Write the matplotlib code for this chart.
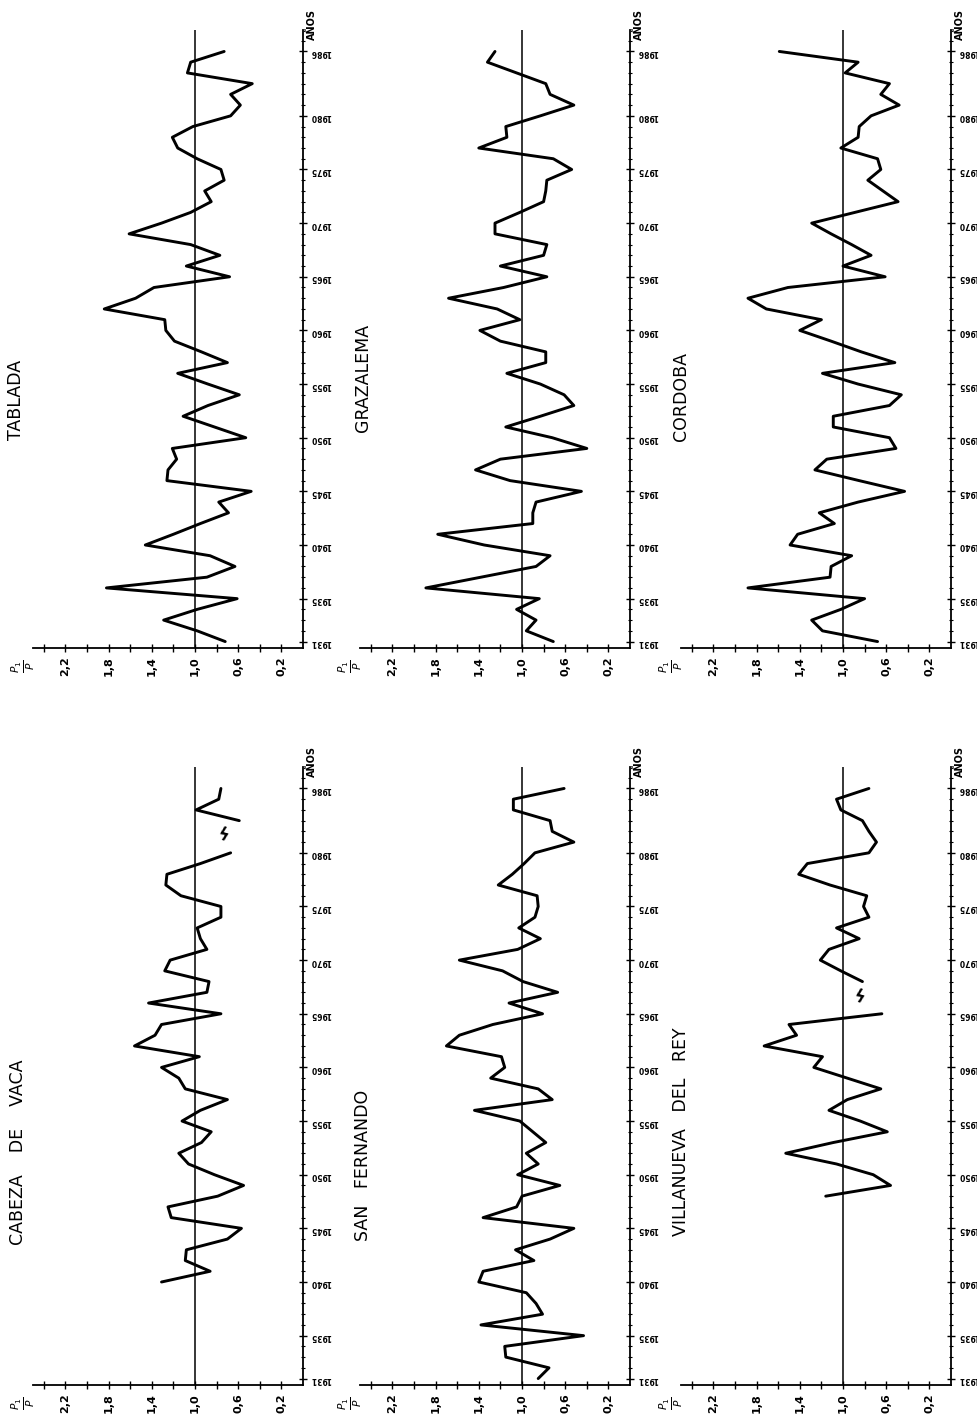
import numpy as np
import matplotlib
matplotlib.use('Agg')
import matplotlib.pyplot as plt
from matplotlib.ticker import FixedLocator

# ---------------- data (P1/P ratio per year) ----------------
years_full = list(range(1931, 1987))

tablada = [0.72, 0.98, 1.29, 0.98, 0.61, 1.82, 0.89, 0.63, 0.86, 1.46,
           1.20, 0.95, 0.69, 0.78, 0.48, 1.26, 1.25, 1.17, 1.21, 0.53,
           0.82, 1.11, 0.88, 0.59, 0.88, 1.16, 0.70, 0.94, 1.19, 1.27,
           1.28, 1.84, 1.55, 1.38, 0.68, 1.08, 0.77, 1.04, 1.61, 1.31,
           1.04, 0.85, 0.91, 0.73, 0.76, 0.98, 1.16, 1.21, 1.02, 0.67,
           0.58, 0.67, 0.47, 1.07, 1.04, 0.73]

grazalema = [0.71, 0.96, 0.87, 1.05, 0.84, 1.89, 1.38, 0.87, 0.74, 1.35,
             1.78, 0.90, 0.90, 0.87, 0.45, 1.11, 1.43, 1.20, 0.40, 0.72,
             1.15, 0.83, 0.52, 0.61, 0.83, 1.14, 0.78, 0.78, 1.20, 1.39,
             1.02, 1.23, 1.68, 1.17, 0.77, 1.20, 0.80, 0.77, 1.25, 1.25,
             1.02, 0.80, 0.78, 0.77, 0.54, 0.71, 1.40, 1.14, 1.15, 0.83,
             0.52, 0.74, 0.78, 1.05, 1.32, 1.25]

cordoba = [0.68, 1.19, 1.29, 1.02, 0.80, 1.88, 1.12, 1.11, 0.92, 1.49,
           1.42, 1.08, 1.22, 0.86, 0.43, 0.85, 1.26, 1.15, 0.51, 0.57,
           1.09, 1.09, 0.57, 0.46, 0.86, 1.19, 0.52, 0.83, 1.11, 1.40,
           1.20, 1.71, 1.88, 1.51, 0.61, 1.00, 0.74, 0.92, 1.11, 1.29,
           0.89, 0.49, 0.63, 0.77, 0.65, 0.68, 1.02, 0.86, 0.85, 0.74,
           0.48, 0.65, 0.57, 0.98, 0.86, 1.59]

san_fernando = [0.85, 0.75, 1.15, 1.16, 0.43, 1.38, 0.81, 0.87, 0.96, 1.40,
                1.36, 0.89, 1.06, 0.74, 0.52, 1.36, 1.05, 1.00, 0.65, 1.04,
                0.85, 0.96, 0.78, 0.90, 1.02, 1.44, 0.72, 0.85, 1.29, 1.16,
                1.19, 1.70, 1.58, 1.27, 0.81, 1.12, 0.67, 0.99, 1.18, 1.58,
                1.04, 0.83, 1.03, 0.88, 0.85, 0.86, 1.22, 1.09, 0.98, 0.88,
                0.52, 0.72, 0.74, 1.08, 1.08, 0.61]

years_cabeza = list(range(1940, 1987))
cabeza = [1.31, 0.86, 1.09, 1.08, 0.70, 0.57, 1.22, 1.25, 0.79, 0.55,
          0.82, 1.06, 1.15, 0.94, 0.85, 1.12, 0.95, 0.70, 1.09, 1.15,
          1.31, 0.96, 1.56, 1.37, 1.31, 0.76, 1.43, 0.89, 0.87, 1.28,
          1.23, 0.89, 0.95, 0.98, 0.76, 0.76, 1.13, 1.27, 1.26, 0.95,
          0.67, np.nan, np.nan, 0.59, 0.99, 0.78, 0.76]

years_villanueva = list(range(1948, 1987))
villanueva = [1.16, 0.56, 0.72, 1.06, 1.53, 1.09, 0.59, 0.84, 1.13, 0.96,
              0.65, 0.96, 1.27, 1.19, 1.73, 1.43, 1.50, 0.64, np.nan, np.nan,
              0.82, 1.02, 1.21, 1.13, 0.85, 1.06, 0.76, 0.81, 0.78, 1.12,
              1.41, 1.33, 0.76, 0.69, 0.76, 0.82, 1.02, 1.06, 0.76]

# break marks (year, value) where series is interrupted
cabeza_break = (1981.6, 0.74)
villanueva_break = (1966.5, 0.85)

value_ticks = [0.2, 0.6, 1.0, 1.4, 1.8, 2.2]
value_labels = ['0,2', '0,6', '1,0', '1,4', '1,8', '2,2']
value_minor = [0.4, 0.8, 1.2, 1.6, 2.0, 2.4]
year_ticks = [1931, 1935, 1940, 1945, 1950, 1955, 1960, 1965, 1970, 1975, 1980, 1986]
year_labels = [str(y) for y in year_ticks]

names = ['TABLADA', 'GRAZALEMA', 'CORDOBA',
         'CABEZA    DE    VACA', 'SAN   FERNANDO', 'VILLANUEVA   DEL   REY']

# ---------------- figure ----------------
W, H = 977, 1420
fig = plt.figure(figsize=(W / 100, H / 100), dpi=100)
fig.patch.set_facecolor('white')

col_px = [33, 360, 681]
row_bottom_px = [648, 1385]
ax_w_px, ax_h_px = 270, 618

name_pos = [(16, 400), (363, 378), (681, 396),
            (18, 1152), (363, 1165), (681, 1132)]

series = [(years_full, tablada, None),
          (years_full, grazalema, None),
          (years_full, cordoba, None),
          (years_cabeza, cabeza, cabeza_break),
          (years_full, san_fernando, None),
          (years_villanueva, villanueva, villanueva_break)]

for i, (yrs, vals, brk) in enumerate(series):
    r, c = divmod(i, 3)
    left = col_px[c] / W
    bottom = 1 - row_bottom_px[r] / H
    ax = fig.add_axes([left, bottom, ax_w_px / W, ax_h_px / H])
    ax.set_xlim(2.5, 0.0)
    ax.set_ylim(1930.4, 1988)
    for s in ['top', 'left']:
        ax.spines[s].set_visible(False)
    for s in ['bottom', 'right']:
        ax.spines[s].set_linewidth(1.3)
    ax.axvline(1.0, color='black', lw=1.1)
    ax.plot(np.array(vals, dtype=float), yrs, color='black', lw=2.1,
            solid_joinstyle='round', solid_capstyle='round')
    if brk is not None:
        ax.text(brk[1], brk[0], 'ϟ', fontsize=12, ha='center', va='center',
                rotation=-15, fontweight='bold')

    ax.xaxis.set_major_locator(FixedLocator(value_ticks))
    ax.xaxis.set_minor_locator(FixedLocator(value_minor))
    ax.set_xticklabels(value_labels)
    ax.tick_params(axis='x', which='both', direction='inout', length=6,
                   width=1.0, labelsize=8, labelrotation=90, pad=3)
    for lbl in ax.get_xticklabels():
        lbl.set_fontweight('bold')

    ax.yaxis.tick_right()
    ax.yaxis.set_major_locator(FixedLocator(year_ticks))
    ax.yaxis.set_minor_locator(FixedLocator(list(range(1931, 1988))))
    ax.set_yticklabels(year_labels)
    ax.tick_params(axis='y', which='major', direction='inout', length=6,
                   width=1.0, labelsize=5.5, labelrotation=180, pad=2)
    ax.tick_params(axis='y', which='minor', direction='inout', length=3,
                   width=0.8)
    for lbl in ax.get_yticklabels():
        lbl.set_fontweight('bold')

    ax.annotate('AÑOS', xy=(1, 1), xycoords='axes fraction',
                xytext=(9, 6), textcoords='offset pixels', rotation=90,
                ha='center', va='center', fontsize=7, fontweight='bold')
    ax.annotate(r'$\frac{P_1}{P}$', xy=(0, 0), xycoords='axes fraction',
                xytext=(-10, -18), textcoords='offset pixels', rotation=90,
                ha='center', va='center', fontsize=11)

    nx, ny = name_pos[i]
    fig.text(nx / W, 1 - ny / H, names[i], rotation=90, ha='center',
             va='center', fontsize=12.5)

fig.savefig('out.png', dpi=100, facecolor='white')
